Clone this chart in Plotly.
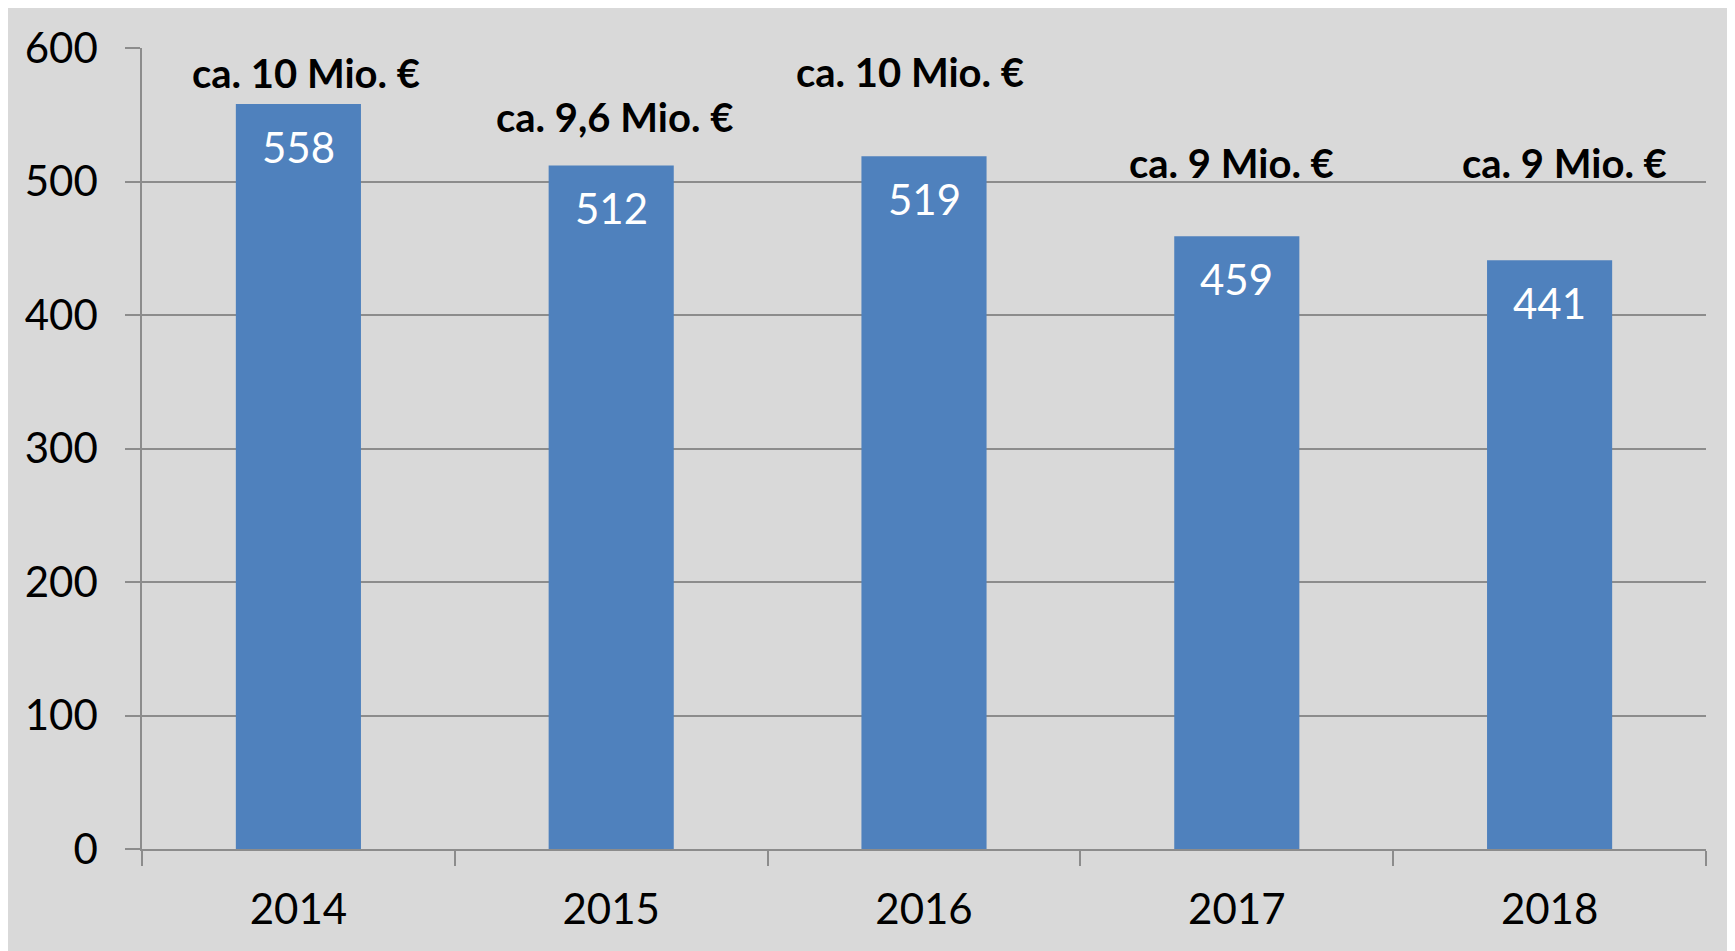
import plotly.graph_objects as go

# ---- data ----
years = ["2014", "2015", "2016", "2017", "2018"]
counts = [558, 512, 519, 459, 441]
amount_labels = ["ca. 10 Mio. €", "ca. 9,6 Mio. €", "ca. 10 Mio. €", "ca. 9 Mio. €", "ca. 9 Mio. €"]
y_ticks = [0, 100, 200, 300, 400, 500, 600]

# ---- label placement (style) ----
amount_label_y = [581, 548, 582, 514, 514]
amount_label_dx = [8, 3, -14, -5, 15]

BAR = "#4F81BD"
BG = "#D9D9D9"
GRID = "#8C8C8C"
FONT = "Lato"

fig = go.Figure()
fig.add_trace(go.Bar(
    x=years, y=counts,
    marker=dict(color=BAR, line=dict(width=0)),
    hoverinfo="skip",
))

annotations = []
for i, v in enumerate(counts):
    annotations.append(dict(
        x=i, y=v, xref="x", yref="y", text=str(v), showarrow=False,
        yanchor="middle", yshift=-43,
        font=dict(family=FONT, size=42, color="white"),
    ))
for i, (txt, ly, dx) in enumerate(zip(amount_labels, amount_label_y, amount_label_dx)):
    annotations.append(dict(
        x=i, y=ly, xref="x", yref="y", text=txt, showarrow=False,
        yanchor="middle", xshift=dx,
        font=dict(family=FONT, size=40, color="black", weight="bold"),
    ))

# page body has an 8px margin; figure fills the rest of the window
W, H = 1727, 943
L, R, T, B = 134, 29, 40, 102

fig.update_layout(
    width=W, height=H,
    margin=dict(l=L, r=R, t=T, b=B, pad=0),
    paper_bgcolor=BG,
    plot_bgcolor=BG,
    showlegend=False,
    bargap=0.6,
    annotations=annotations,
    font=dict(family=FONT, color="black"),
)

fig.update_xaxes(
    type="category",
    range=[-0.5, len(years) - 0.5],
    autorange=False,
    showgrid=False,
    showline=True, linecolor=GRID, linewidth=1.5,
    ticks="outside", tickson="boundaries", ticklen=15, tickwidth=1.5, tickcolor=GRID,
    tickfont=dict(family=FONT, size=42, color="black"),
    tickangle=0,
    ticklabelstandoff=23,
    zeroline=False,
    fixedrange=True,
)
fig.update_yaxes(
    range=[0, 600],
    autorange=False,
    tickvals=y_ticks,
    showgrid=True, gridcolor=GRID, gridwidth=1.5,
    showline=True, linecolor=GRID, linewidth=1.5,
    ticks="outside", ticklen=15, tickwidth=1.5, tickcolor=GRID,
    tickfont=dict(family=FONT, size=42, color="black"),
    ticklabelstandoff=19,
    zeroline=False,
    fixedrange=True,
)

fig.write_html("out.html", config={"displayModeBar": False})
